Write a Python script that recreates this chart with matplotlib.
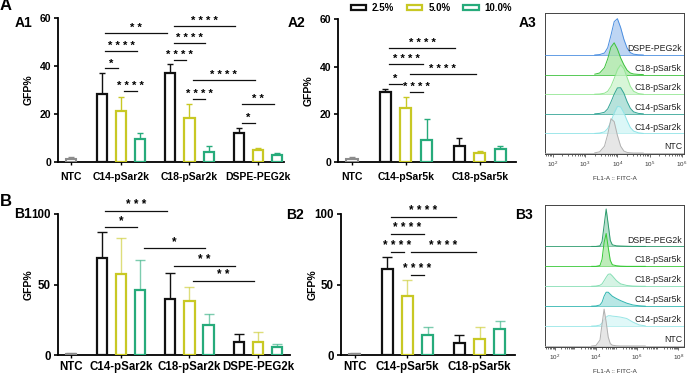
import numpy as np
import matplotlib
matplotlib.use('Agg')
import matplotlib.pyplot as plt
from matplotlib.patches import Patch
from matplotlib.ticker import LogLocator, NullFormatter

plt.rcParams['font.family'] = ['Liberation Sans', 'DejaVu Sans']

# ---- data ----
conc_labels = ['2.5%', '5.0%', '10.0%']
conc_colors = ['#111111', '#c8c824', '#27ab7b']
ntc_color = '#8c8c8c'

groups_2k = ['C14-pSar2k', 'C18-pSar2k', 'DSPE-PEG2k']
groups_5k = ['C14-pSar5k', 'C18-pSar5k']

# rows = lipid group, cols = 2.5 / 5.0 / 10.0 %
a1_ntc = [1.3, 0.8]
a1_mean = [[28.2, 21.2, 9.4], [37.0, 18.2, 4.3], [12.0, 5.0, 2.9]]
a1_sd = [[9.0, 6.0, 2.8], [3.8, 6.0, 2.4], [2.0, 0.7, 1.0]]
a1_sig = [(1, 0, 1, 1, 39.0, '*'), (1, 1, 1, 2, 29.7, '****'), (1, 0, 1, 2, 46.2, '****'),
          (1, 0, 2, 0, 53.6, '**'), (2, 0, 2, 1, 42.5, '****'), (2, 0, 2, 2, 49.7, '****'),
          (2, 0, 3, 0, 56.7, '****'), (2, 1, 3, 1, 34.2, '****'), (2, 1, 2, 2, 26.1, '****'),
          (3, 0, 3, 1, 16.2, '*'), (3, 0, 3, 2, 24.0, '**')]

a2_ntc = [1.1, 1.1]
a2_mean = [[29.5, 22.5, 9.2], [6.7, 3.6, 5.5]]
a2_sd = [[1.1, 4.6, 9.0], [3.2, 1.1, 1.3]]
a2_sig = [(1, 0, 2, 0, 48.0, '****'), (1, 0, 1, 2, 41.0, '****'), (1, 1, 2, 1, 36.9, '****'),
          (1, 0, 1, 1, 32.7, '*'), (1, 1, 1, 2, 29.5, '****')]

b1_ntc = [0.7, 0.5]
b1_mean = [[68.6, 57.4, 46.1], [39.5, 38.5, 21.3], [9.5, 9.0, 5.4]]
b1_sd = [[18.4, 25.8, 21.3], [18.4, 10.0, 7.5], [5.4, 7.1, 2.2]]
b1_sig = [(1, 0, 2, 0, 102.1, '***'), (1, 0, 1, 2, 91.0, '*'), (1, 2, 2, 2, 75.7, '*'),
          (2, 0, 3, 0, 63.4, '**'), (2, 1, 3, 1, 52.5, '**')]

b2_ntc = [0.8, 0.6]
b2_mean = [[61.0, 41.8, 14.2], [8.7, 11.1, 18.4]]
b2_sd = [[8.7, 11.4, 5.9], [5.5, 9.0, 5.9]]
b2_sig = [(1, 0, 2, 0, 97.6, '****'), (1, 0, 1, 2, 86.0, '****'), (1, 0, 1, 1, 73.3, '****'),
          (1, 1, 2, 1, 73.3, '****'), (1, 1, 1, 2, 56.7, '****')]

# flow histograms: log10(FITC) grid and normalised counts read per sample
hist_names = ['NTC', 'C14-pSar2k', 'C14-pSar5k', 'C18-pSar2k', 'C18-pSar5k', 'DSPE-PEG2k']

a3_grid = [3.3, 3.45, 3.6, 3.7, 3.8, 3.9, 4.0, 4.1, 4.2, 4.3, 4.4, 4.5, 4.65, 4.8]
a3_ntc = [0.01, 0.06, 0.35, 0.95, 1.75, 1.6, 0.9, 0.35, 0.1, 0.03, 0.01, 0, 0, 0]
a3_c14_2k = [0, 0.02, 0.08, 0.25, 0.6, 1.05, 1.38, 1.35, 1.05, 0.65, 0.3, 0.12, 0.03, 0]
a3_c14_5k = [0, 0.02, 0.08, 0.25, 0.6, 1.0, 1.32, 1.33, 1.05, 0.62, 0.28, 0.1, 0.02, 0]
a3_c18_2k = [0, 0.01, 0.05, 0.15, 0.4, 0.8, 1.25, 1.5, 1.3, 0.85, 0.4, 0.15, 0.03, 0]
a3_c18_5k = [0.02, 0.08, 0.35, 0.8, 1.4, 1.62, 1.3, 0.85, 0.5, 0.22, 0.08, 0.03, 0.01, 0]
a3_dspe = [0, 0.02, 0.1, 0.37, 1.0, 1.7, 1.85, 1.4, 0.8, 0.35, 0.12, 0.04, 0.01, 0]

b3_grid = [3.8, 4.0, 4.2, 4.3, 4.4, 4.5, 4.6, 4.7, 4.8, 5.0, 5.2, 5.5, 5.8, 6.1, 6.4]
b3_ntc = [0, 0.02, 0.3, 1.1, 1.85, 1.2, 0.45, 0.12, 0.04, 0.01, 0, 0, 0, 0, 0]
b3_c14_2k = [0, 0.01, 0.05, 0.15, 0.32, 0.45, 0.52, 0.52, 0.5, 0.48, 0.45, 0.38, 0.2, 0.06, 0.01]
b3_c14_5k = [0, 0.01, 0.06, 0.2, 0.5, 0.7, 0.7, 0.6, 0.5, 0.38, 0.28, 0.15, 0.06, 0.02, 0]
b3_c18_2k = [0, 0.01, 0.05, 0.12, 0.28, 0.45, 0.6, 0.62, 0.52, 0.28, 0.12, 0.04, 0.01, 0, 0]
b3_c18_5k = [0, 0, 0.04, 0.35, 1.2, 1.65, 0.95, 0.3, 0.08, 0.03, 0.01, 0, 0, 0, 0]
b3_dspe = [0, 0, 0.03, 0.25, 1.05, 1.88, 1.1, 0.3, 0.08, 0.03, 0.02, 0.01, 0, 0, 0]

a3_lines = ['#b0b0b0', '#8fe3e6', '#34a596', '#93e693', '#3cc23c', '#4a8ee0']
a3_fills = ['#dedede', '#cff5f5', '#9ed9cf', '#cbf3cb', '#a5e5a0', '#a9c8f0']
b3_lines = ['#b0b0b0', '#98e6e6', '#2fb5b0', '#86deb4', '#35c935', '#2b9b6c']
b3_fills = ['#dedede', '#d6f6f6', '#a0e0dd', '#c8efdc', '#a8e6a2', '#9fd6bd']

# ---- layout ----
W, H = 689, 375
fig = plt.figure(figsize=(W / 100, H / 100), dpi=100)


def box(l, r, t, b):
    return [l / W, 1 - b / H, (r - l) / W, (b - t) / H]


NTC_X = 0.27
OFF = 0.28


def bar_x(g, c):
    return g + (c - 1) * OFF


def bar_panel(ax, groups, ntc, means, sds, sig, ymax, yticks, xright, fs, cap, star_fs,
              ylab_x, xpad, err_alpha):
    ax.bar(NTC_X, ntc[0], width=0.15, facecolor='white', edgecolor=ntc_color, lw=1.5, zorder=3)
    ax.errorbar(NTC_X, ntc[0], yerr=[[0], [ntc[1]]], fmt='none', ecolor=ntc_color,
                elinewidth=1.0, capsize=cap, capthick=1.0, zorder=2)
    for gi in range(len(groups)):
        for ci in range(3):
            x = bar_x(gi + 1, ci)
            ax.bar(x, means[gi][ci], width=0.15, facecolor='white', edgecolor=conc_colors[ci],
                   lw=1.6, zorder=3)
            a = 1.0 if ci == 0 else err_alpha
            ax.errorbar(x, means[gi][ci], yerr=[[0], [sds[gi][ci]]], fmt='none',
                        ecolor=conc_colors[ci], elinewidth=1.0, capsize=cap, capthick=1.0,
                        alpha=a, zorder=2)
    for g1, c1, g2, c2, y, lab in sig:
        x1 = bar_x(g1, c1) + 0.05
        x2 = bar_x(g2, c2) - 0.05
        ax.plot([x1, x2], [y, y], color='#111111', lw=0.9, clip_on=False, zorder=4)
        ax.text((x1 + x2) / 2, y, ' '.join(lab), ha='center', va='bottom', fontsize=star_fs,
                fontweight='bold', clip_on=False, zorder=4)
    ax.set_xlim(0.08, xright)
    ax.set_ylim(0, ymax)
    ax.set_yticks(yticks)
    ax.set_xticks([NTC_X] + list(range(1, len(groups) + 1)))
    ax.set_xticklabels(['NTC'] + groups, fontsize=fs, fontweight='bold')
    for t in ax.get_yticklabels():
        t.set_fontweight('bold')
        t.set_fontsize(fs)
    ax.tick_params(axis='y', length=3, width=1.2, pad=2)
    ax.tick_params(axis='x', length=2, width=1.0, pad=xpad)
    for s in ['top', 'right']:
        ax.spines[s].set_visible(False)
    for s in ['left', 'bottom']:
        ax.spines[s].set_linewidth(1.3)
    ax.set_ylabel('GFP%', fontsize=7.5, fontweight='bold')
    ax.yaxis.set_label_coords(ylab_x, 0.5)


def hist_panel(ax, grid, curves, lines, fills, xlo, xhi, majors, top):
    xs = 10 ** np.array(grid)
    n = len(curves)
    for i in range(n - 1, -1, -1):
        z = 10 + (n - i) * 3
        vals = np.array(curves[i])
        ax.axhline(i, color=lines[i], lw=0.6, zorder=z)
        ax.fill_between(xs, i, i + vals, color=fills[i], alpha=0.75, lw=0, zorder=z + 1)
        ax.plot(xs, i + vals, color=lines[i], lw=0.7, zorder=z + 2)
        ax.text(0.985, i + 0.32, hist_names[i], transform=ax.get_yaxis_transform(),
                ha='right', va='center', fontsize=6.3, color='#222222', zorder=40)
    ax.set_xscale('log')
    ax.set_xlim(10 ** xlo, 10 ** xhi)
    ax.set_ylim(-0.05, top)
    ax.set_yticks([])
    ax.set_xticks([10.0 ** m for m in majors])
    ax.xaxis.set_minor_locator(LogLocator(base=10, subs=np.arange(2, 10), numticks=100))
    ax.xaxis.set_minor_formatter(NullFormatter())
    ax.tick_params(axis='x', which='major', length=2.2, width=0.5, labelsize=4.5, pad=2,
                   colors='#333333')
    ax.tick_params(axis='x', which='minor', length=1.2, width=0.4)
    for s in ax.spines.values():
        s.set_linewidth(0.7)
        s.set_color('#444444')
    ax.set_xlabel('FL1-A :: FITC-A', fontsize=4.5, labelpad=5, color='#333333')


ax_a1 = fig.add_axes(box(58, 284, 18, 162))
bar_panel(ax_a1, groups_2k, a1_ntc, a1_mean, a1_sd, a1_sig, 60, [0, 20, 40, 60], 3.38,
          7.5, 2.5, 8, -0.106, 5, 1.0)
ax_a2 = fig.add_axes(box(338, 516, 19, 162))
bar_panel(ax_a2, groups_5k, a2_ntc, a2_mean, a2_sd, a2_sig, 60, [0, 20, 40, 60], 2.49,
          7.5, 2.5, 8, -0.135, 5, 1.0)
ax_b1 = fig.add_axes(box(58, 290, 214, 355))
bar_panel(ax_b1, groups_2k, b1_ntc, b1_mean, b1_sd, b1_sig, 100, [0, 50, 100], 3.47,
          8.3, 3.5, 8.5, -0.103, 2.5, 0.6)
ax_b2 = fig.add_axes(box(341, 515, 214, 355))
bar_panel(ax_b2, groups_5k, b2_ntc, b2_mean, b2_sd, b2_sig, 100, [0, 50, 100], 2.49,
          8.3, 3.5, 8.5, -0.135, 2.5, 0.6)

a3_curves = [a3_ntc, a3_c14_2k, a3_c14_5k, a3_c18_2k, a3_c18_5k, a3_dspe]
b3_curves = [b3_ntc, b3_c14_2k, b3_c14_5k, b3_c18_2k, b3_c18_5k, b3_dspe]
ax_a3 = fig.add_axes(box(545, 684, 13, 154))
hist_panel(ax_a3, a3_grid, a3_curves, a3_lines, a3_fills, 1.76, 6.06, [2, 3, 4, 5, 6], 7.14)
ax_b3 = fig.add_axes(box(545, 684, 205, 347))
hist_panel(ax_b3, b3_grid, b3_curves, b3_lines, b3_fills, 1.53, 8.28, [2, 4, 6, 8], 7.08)

handles = [Patch(facecolor='white', edgecolor=c, lw=1.6, label=l)
           for c, l in zip(conc_colors, conc_labels)]
fig.legend(handles=handles, loc='center', bbox_to_anchor=(0.626, 0.978), ncol=3,
           frameon=False, prop={'weight': 'bold', 'size': 7}, handlelength=1.6,
           handleheight=0.45, columnspacing=1.3, handletextpad=0.6)

for lab, x, y, fs in [('A', 6, 6, 12), ('B', 6, 202, 12), ('A1', 24, 23, 10), ('B1', 23, 214, 10),
                      ('A2', 296, 23, 10), ('B2', 295, 215, 10), ('A3', 528, 23, 10),
                      ('B3', 524, 215, 10)]:
    fig.text(x / W, 1 - y / H, lab, fontsize=fs, fontweight='bold', ha='center', va='center')

fig.savefig('out.png', dpi=100)
